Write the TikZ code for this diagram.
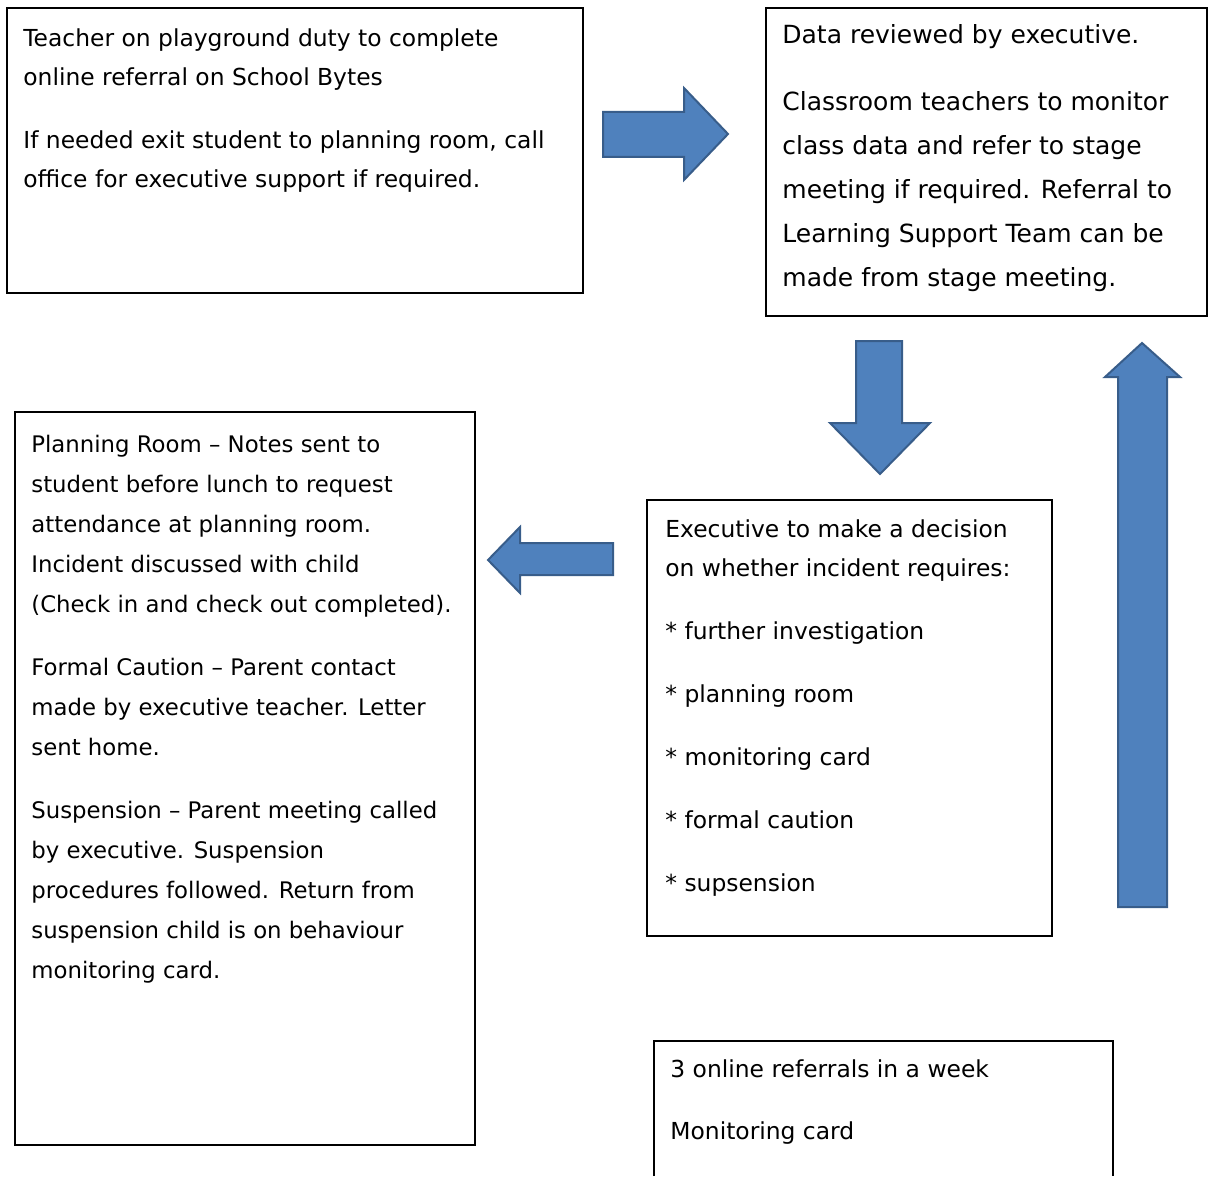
\documentclass[tikz,border=0pt]{standalone}
\usepackage{fontspec}
\setmainfont{DejaVu Sans}
\usetikzlibrary{positioning}

\definecolor{arrowfill}{RGB}{79,129,189}
\definecolor{arrowline}{RGB}{56,93,138}

\tikzset{
    panel/.style={draw=black, line width=0.7pt},
    note/.style={anchor=base west, align=left, inner sep=0pt,
        font=\fontsize{11.4}{19.5}\selectfont},
    smallnote/.style={note, font=\fontsize{11.7}{19.5}\selectfont},
    bignote/.style={note, font=\fontsize{12.5}{22.1}\selectfont},
    blockarrow/.style={fill=arrowfill, draw=arrowline, line width=1pt, line join=miter}
}

\begin{document}
\begin{tikzpicture}[x=0.5pt, y=-0.5pt]
    \useasboundingbox (0,0) rectangle (1208,1176);
    % Boxes
    \draw [panel] (7,8) rectangle (583,293);
    \draw [panel] (766,8) rectangle (1207,316);
    \draw [panel] (15,412) rectangle (475,1145);
    \draw [panel] (647,500) rectangle (1052,936);
    \draw [panel] (654,1176) -- (654,1041) -- (1113,1041) -- (1113,1176);
    % Texts (placed by the baseline of their last line)
    \node [smallnote] (referral) at (23,188) {Teacher on playground duty to complete\\
        online referral on School Bytes\\[12pt]
        If needed exit student to planning room, call\\
        office for executive support if required.};
    \node [bignote] (review) at (782,287) {Data reviewed by executive.\\[11pt]
        Classroom teachers to monitor\\
        class data and refer to stage\\
        meeting if required. Referral to\\
        Learning Support Team can be\\
        made from stage meeting.};
    \node [note, font=\fontsize{11.4}{20}\selectfont] (outcomes) at (31,978) {Planning Room – Notes sent to\\
        student before lunch to request\\
        attendance at planning room.\\
        Incident discussed with child\\
        (Check in and check out completed).\\[11.5pt]
        Formal Caution – Parent contact\\
        made by executive teacher. Letter\\
        sent home.\\[11.5pt]
        Suspension – Parent meeting called\\
        by executive. Suspension\\
        procedures followed. Return from\\
        suspension child is on behaviour\\
        monitoring card.};
    \node [smallnote] (decision) at (665,891) {Executive to make a decision\\
        on whether incident requires:\\[12pt]
        * further investigation\\[12pt]
        * planning room\\[12pt]
        * monitoring card\\[12pt]
        * formal caution\\[12pt]
        * supsension};
    \node [smallnote] (weekly) at (670,1139) {3 online referrals in a week\\[11.5pt]
        Monitoring card};
    % Block arrows
    \draw [blockarrow] (603,112) -- (684,112) -- (684,88) -- (728,134)
        -- (684,180) -- (684,157) -- (603,157) -- cycle;
    \draw [blockarrow] (856,341) -- (902,341) -- (902,423) -- (930,423)
        -- (880,474) -- (830,423) -- (856,423) -- cycle;
    \draw [blockarrow] (613,543) -- (520,543) -- (520,527) -- (488,560)
        -- (520,593) -- (520,575) -- (613,575) -- cycle;
    \draw [blockarrow] (1118,907) -- (1118,377) -- (1105,377) -- (1142,343)
        -- (1180,377) -- (1167,377) -- (1167,907) -- cycle;
\end{tikzpicture}
\end{document}
